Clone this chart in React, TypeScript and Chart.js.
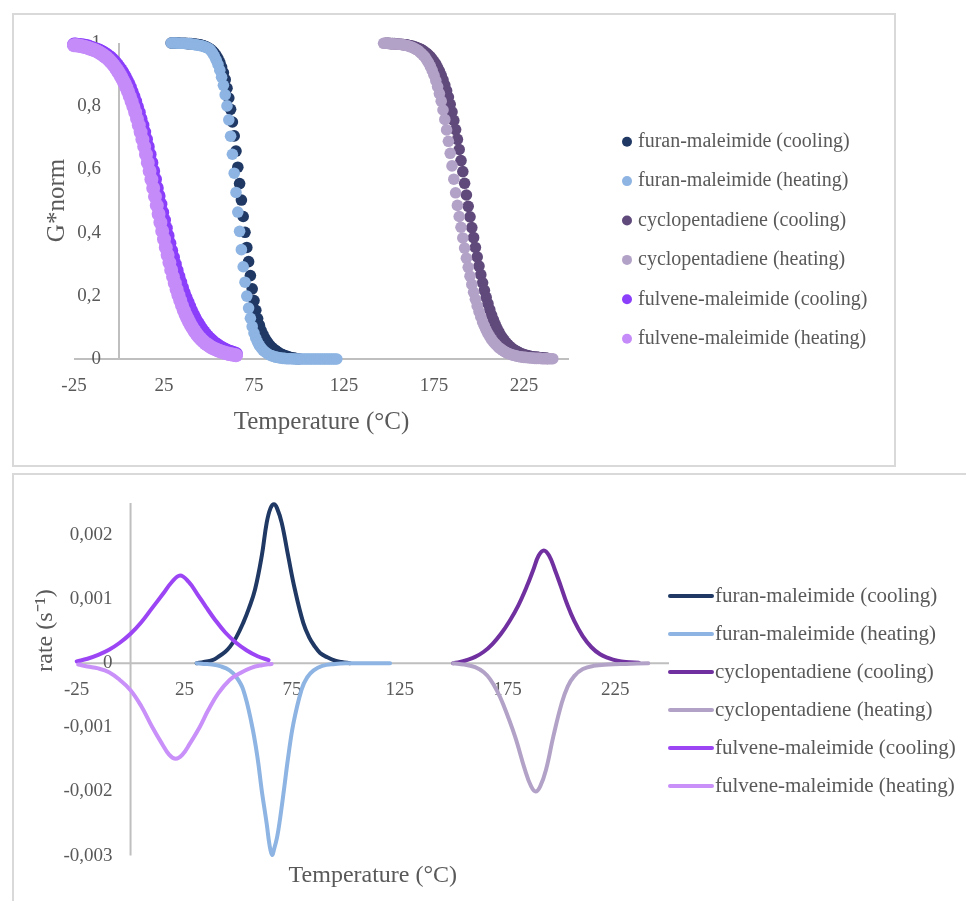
import React, { useEffect, useRef } from "react";
import { Chart, registerables } from "chart.js";

Chart.register(...registerables);

// ---------- shared ----------
const SERIES_NAMES = [
  "furan-maleimide (cooling)",
  "furan-maleimide (heating)",
  "cyclopentadiene (cooling)",
  "cyclopentadiene (heating)",
  "fulvene-maleimide (cooling)",
  "fulvene-maleimide (heating)",
];
const TOP_COLORS = ["#1F3864", "#8DB4E2", "#604A7B", "#B3A2C7", "#8B3FFA", "#C58CF9"];
const BOTTOM_COLORS = ["#1F3864", "#8DB4E2", "#7030A0", "#B3A2C7", "#9B45F5", "#C890F8"];
const TOP_MARKER_RADII = [5.8, 5.8, 5.8, 5.8, 7, 7];

const X_TICKS = [-25, 25, 75, 125, 175, 225];
const X_TICK_LABELS = ["-25", "25", "75", "125", "175", "225"];
const TOP_Y_TICKS = [0, 0.2, 0.4, 0.6, 0.8, 1];
const TOP_Y_TICK_LABELS = ["0", "0,2", "0,4", "0,6", "0,8", "1"];
const BOTTOM_Y_TICKS = [-0.003, -0.002, -0.001, 0, 0.001, 0.002];
const BOTTOM_Y_TICK_LABELS = ["-0,003", "-0,002", "-0,001", "0", "0,001", "0,002"];

// ---------- top chart: normalised G* vs temperature ----------
const furanCoolT = [29,30,31,32,33,34,35,36,37,38,39,40,41,42,43,44,45,46,47,48,49,50,51,52,53,54,55,56,57,58,59,60,61,62,63,64,65,66,67,68,69,70,71,72,73,74,75,76,77,78,79,80,81,82,83,84,85,86,87,88,89,90,91,92,93,94,95,96,97,98,99,100];
const furanCoolG = [1.000,1.000,1.000,1.000,1.000,0.999,0.999,0.999,0.999,0.998,0.998,
  0.998,0.997,0.997,0.996,0.995,0.994,0.993,0.991,0.989,0.986,
  0.983,0.979,0.974,0.968,0.960,0.951,0.939,0.924,0.906,0.884,
  0.857,0.826,0.790,0.750,0.706,0.658,0.607,0.555,0.503,0.451,
  0.401,0.353,0.308,0.264,0.222,0.185,0.154,0.128,0.107,0.090,
  0.077,0.066,0.057,0.049,0.042,0.036,0.031,0.027,0.023,0.019,
  0.016,0.013,0.011,0.009,0.007,0.005,0.004,0.003,0.002,0.001,0.001];

const furanHeatT = [29,30,31,32,33,34,35,36,37,38,39,40,41,42,43,44,45,46,47,48,49,50,51,52,53,54,55,56,57,58,59,60,61,62,63,64,65,66,67,68,69,70,71,72,73,74,75,76,77,78,79,80,81,82,83,84,85,86,87,88,89,90,91,92,93,94,95,96,97,98,99,100,101,102,103,104,105,106,107,108,109,110,111,112,113,114,115,116,117,118,119,120,121];
const furanHeatG = [1.000,1.000,1.000,1.000,0.999,0.999,0.999,0.999,0.998,0.998,0.998,
  0.997,0.996,0.995,0.994,0.993,0.992,0.991,0.989,0.987,0.985,
  0.982,0.976,0.968,0.958,0.946,0.932,0.914,0.892,0.866,0.836,
  0.801,0.757,0.705,0.648,0.588,0.527,0.465,0.404,0.346,0.292,
  0.243,0.199,0.161,0.129,0.103,0.082,0.066,0.053,0.043,0.035,
  0.028,0.023,0.019,0.015,0.012,0.010,0.008,0.006,0.005,0.004,
  0.003,0.002,0.002,0.001,0.001,0.001,0.001,
  0,0,0,0,0,0,0,0,0,0,0,0,0,0,0,0,0,0,0,0,0,0,0,0,0,0];

const cycloCoolT = [148,149,150,151,152,153,154,155,156,157,158,159,160,161,162,163,164,165,166,167,168,169,170,171,172,173,174,175,176,177,178,179,180,181,182,183,184,185,186,187,188,189,190,191,192,193,194,195,196,197,198,199,200,201,202,203,204,205,206,207,208,209,210,211,212,213,214,215,216,217,218,219,220,221,222,223,224,225,226,227,228,229,230,231,232,233,234,235,236,237,238];
const cycloCoolG = [0.999,0.999,0.999,0.998,0.998,0.998,0.997,0.997,0.996,0.996,
  0.995,0.994,0.994,0.992,0.991,0.990,0.988,0.986,0.984,0.982,
  0.979,0.975,0.971,0.967,0.962,0.956,0.949,0.941,0.933,0.922,
  0.911,0.898,0.883,0.867,0.849,0.829,0.806,0.782,0.755,0.726,
  0.695,0.663,0.628,0.593,0.556,0.519,0.483,0.450,0.416,0.384,
  0.353,0.323,0.294,0.267,0.241,0.217,0.195,0.175,0.156,0.139,
  0.124,0.110,0.097,0.086,0.076,0.067,0.059,0.052,0.046,0.040,
  0.035,0.031,0.027,0.024,0.021,0.018,0.016,0.014,0.012,0.011,
  0.009,0.008,0.007,0.006,0.006,0.005,0.004,0.004,0.003,0.003,0.002];

const cycloHeatT = [147,148,149,150,151,152,153,154,155,156,157,158,159,160,161,162,163,164,165,166,167,168,169,170,171,172,173,174,175,176,177,178,179,180,181,182,183,184,185,186,187,188,189,190,191,192,193,194,195,196,197,198,199,200,201,202,203,204,205,206,207,208,209,210,211,212,213,214,215,216,217,218,219,220,221,222,223,224,225,226,227,228,229,230,231,232,233,234,235,236,237,238,239,240,241];
const cycloHeatG = [0.999,0.999,0.999,0.998,0.998,0.998,0.997,0.997,0.996,0.996,
  0.995,0.994,0.993,0.992,0.990,0.988,0.986,0.983,0.980,0.977,
  0.972,0.967,0.961,0.955,0.946,0.937,0.926,0.913,0.898,0.881,
  0.862,0.840,0.816,0.788,0.758,0.725,0.689,0.651,0.611,0.569,
  0.526,0.486,0.451,0.417,0.383,0.351,0.319,0.290,0.262,0.236,
  0.211,0.189,0.168,0.150,0.133,0.117,0.104,0.091,0.080,0.071,
  0.062,0.054,0.048,0.042,0.036,0.032,0.028,0.024,0.021,0.018,
  0.016,0.014,0.012,0.011,0.009,0.008,0.007,0.006,0.005,0.005,
  0.004,0.004,0.003,0.003,0.002,0.002,0.002,0.002,0.001,0.001,
  0.001,0.001,0.001,0.001,0.001];

const fulveneT = [-25,-24,-23,-22,-21,-20,-19,-18,-17,-16,-15,-14,-13,-12,-11,-10,-9,-8,-7,-6,-5,-4,-3,-2,-1,0,1,2,3,4,5,6,7,8,9,10,11,12,13,14,15,16,17,18,19,20,21,22,23,24,25,26,27,28,29,30,31,32,33,34,35,36,37,38,39,40,41,42,43,44,45,46,47,48,49,50,51,52,53,54,55,56,57,58,59,60,61,62,63,64,65];
const fulveneCoolG = [0.995,0.995,0.994,0.993,0.993,0.992,0.991,0.990,0.989,0.986,
  0.984,0.982,0.980,0.978,0.976,0.973,0.970,0.966,0.963,0.958,
  0.954,0.949,0.943,0.937,0.930,0.922,0.914,0.905,0.895,0.884,
  0.873,0.860,0.846,0.831,0.815,0.798,0.780,0.760,0.740,0.718,
  0.695,0.672,0.647,0.621,0.595,0.568,0.541,0.516,0.490,0.464,
  0.439,0.414,0.390,0.366,0.343,0.321,0.300,0.280,0.261,0.243,
  0.226,0.209,0.194,0.180,0.166,0.153,0.141,0.130,0.119,0.110,
  0.101,0.093,0.085,0.078,0.071,0.065,0.060,0.055,0.050,0.046,
  0.042,0.038,0.035,0.032,0.029,0.026,0.024,0.022,0.020,0.018,0.016];
const fulveneHeatG = [0.993,0.993,0.992,0.991,0.990,0.989,0.987,0.986,0.984,0.982,
  0.980,0.978,0.976,0.973,0.970,0.966,0.963,0.958,0.954,0.949,
  0.943,0.937,0.930,0.922,0.914,0.905,0.895,0.884,0.873,0.860,
  0.846,0.831,0.815,0.798,0.780,0.760,0.740,0.718,0.695,0.672,
  0.647,0.621,0.595,0.568,0.541,0.514,0.486,0.459,0.432,0.405,
  0.379,0.353,0.329,0.305,0.282,0.260,0.240,0.220,0.202,0.185,
  0.169,0.154,0.140,0.128,0.117,0.106,0.097,0.088,0.080,0.073,
  0.066,0.060,0.055,0.050,0.046,0.042,0.038,0.035,0.032,0.030,
  0.027,0.025,0.023,0.021,0.019,0.018,0.016,0.015,0.014,0.013,0.012];

// ---------- bottom chart: rate vs temperature ----------
const furanCoolRateT = [30.7,34,38,40.7,44,46.2,49,52.3,55,57.8,60.9,63.2,65,66.6,68,70.2,73.2,76.3,80.2,83,85.6,88,91,95,98,101.9];
const furanCoolRate = [0,0.00002,0.00005,0.0001,0.00018,0.00026,0.0004,0.00063,0.00086,0.00115,0.00167,0.00219,0.00242,0.00248,0.00242,0.00219,0.00167,0.00115,0.00063,0.0004,0.00026,0.00016,0.0001,0.00004,0.00002,0];
const furanHeatRateT = [30.7,34,38,42,46,49,52.3,56.2,58.9,60.9,63.2,64.6,65.7,66.8,68,69.1,71.2,73.2,75.6,79.4,82,85,89,95,100,110,120.5];
const furanHeatRate = [0,-0.00001,-0.00002,-0.00005,-0.00011,-0.00021,-0.00041,-0.00094,-0.00146,-0.00198,-0.0025,-0.00285,-0.00299,-0.00288,-0.00272,-0.0025,-0.00198,-0.00146,-0.00094,-0.00041,-0.00022,-0.00011,-0.00004,-0.00001,0,0,0];
const cycloCoolRateT = [149.8,153,156,160,164,168,172,176,180,184,187,189.5,191.9,194.3,197,199.8,202.5,206,210,214,218,222,226,230,236];
const cycloCoolRate = [0,0.00002,0.00005,0.0001,0.00018,0.0003,0.00046,0.00066,0.0009,0.0012,0.00146,0.00168,0.00176,0.00168,0.00146,0.0012,0.00094,0.00066,0.00042,0.00025,0.00014,0.00008,0.00004,0.00002,0.00001];
const cycloHeatRateT = [149.8,155,160,164,167,170,173,178.5,183.1,186,188.1,190.2,192.9,196.3,200.2,203,206,210,215,222,230,240.4];
const cycloHeatRate = [0,-0.00002,-0.00006,-0.00014,-0.00025,-0.00042,-0.00064,-0.00114,-0.00166,-0.00192,-0.002,-0.00192,-0.00166,-0.00114,-0.00062,-0.00036,-0.0002,-0.00009,-0.00004,-0.00002,-0.00001,0];
const fulveneCoolRateT = [-25,-20,-15,-10,-5,0,5,10,15,19,23,27,31,35,39.2,44,49,54,59,64.1];
const fulveneCoolRate = [0.00003,0.00007,0.00013,0.00021,0.00032,0.00046,0.00064,0.00086,0.00108,0.00126,0.00137,0.00127,0.00108,0.00088,0.00068,0.00048,0.00032,0.0002,0.00011,0.00005];
const fulveneHeatRateT = [-24.3,-20,-15,-10,-5,0,5,10,14.5,18,21,24,27.6,32.2,36.1,40.7,46,51,56,61,65.5];
const fulveneHeatRate = [-0.00002,-0.00005,-0.00008,-0.00014,-0.00026,-0.00042,-0.00067,-0.00099,-0.00125,-0.00143,-0.00149,-0.00143,-0.00125,-0.00099,-0.00073,-0.00047,-0.00026,-0.00015,-0.00007,-0.00003,-0.00001];

// ---------- helpers ----------
const zip = (xs: number[], ys: number[]) => xs.map((x, i) => ({ x, y: ys[i] }));

const TEXT_COLOR = "#595959";
const AXIS_COLOR = "#BFBFBF";
const FONT = '"Liberation Serif", "Times New Roman", serif';

type Decor = {
  yTicks: number[];
  yTickLabels: string[];
  xTitle: string;
  xTitleY: number;
  yTitle: string;
  yTitleX: number;
  yTitleY: number;
  titleSize: number;
  legendKind: "point" | "line";
  legendX: number;
  legendY: number;
  legendDy: number;
  legendSize: number;
};

const makeDecor = (d: Decor) => ({
  id: "decor",
  beforeDatasetsDraw(chart: any) {
    const ctx = chart.ctx as CanvasRenderingContext2D;
    const xs = chart.scales.x;
    const ys = chart.scales.y;
    const area = chart.chartArea;
    const x0 = xs.getPixelForValue(0);
    const y0 = ys.getPixelForValue(0);
    ctx.save();
    ctx.strokeStyle = AXIS_COLOR;
    ctx.lineWidth = 2;
    ctx.beginPath();
    ctx.moveTo(area.left, y0);
    ctx.lineTo(area.right, y0);
    ctx.moveTo(x0, area.top);
    ctx.lineTo(x0, area.bottom);
    ctx.stroke();

    ctx.fillStyle = TEXT_COLOR;
    ctx.font = `19px ${FONT}`;
    ctx.textAlign = "right";
    ctx.textBaseline = "middle";
    d.yTicks.forEach((v, i) => ctx.fillText(d.yTickLabels[i], x0 - 18, ys.getPixelForValue(v)));
    ctx.textAlign = "center";
    X_TICKS.forEach((v, i) => ctx.fillText(X_TICK_LABELS[i], xs.getPixelForValue(v), y0 + 27));

    ctx.font = `${d.titleSize}px ${FONT}`;
    ctx.fillText(d.xTitle, (area.left + area.right) / 2, d.xTitleY);
    ctx.translate(d.yTitleX, d.yTitleY);
    ctx.rotate(-Math.PI / 2);
    ctx.fillText(d.yTitle, 0, 0);
    ctx.restore();
  },
  afterDatasetsDraw(chart: any) {
    const ctx = chart.ctx as CanvasRenderingContext2D;
    ctx.save();
    chart.data.datasets.forEach((ds: any, i: number) => {
      const y = d.legendY + i * d.legendDy;
      let tx: number;
      if (d.legendKind === "point") {
        ctx.beginPath();
        ctx.arc(d.legendX, y, 5, 0, Math.PI * 2);
        ctx.fillStyle = ds.backgroundColor;
        ctx.fill();
        tx = d.legendX + 11;
      } else {
        ctx.beginPath();
        ctx.strokeStyle = ds.borderColor;
        ctx.lineWidth = 4;
        ctx.lineCap = "round";
        ctx.moveTo(d.legendX + 2, y);
        ctx.lineTo(d.legendX + 44, y);
        ctx.stroke();
        tx = d.legendX + 47;
      }
      ctx.fillStyle = TEXT_COLOR;
      ctx.font = `${d.legendSize}px ${FONT}`;
      ctx.textAlign = "left";
      ctx.textBaseline = "middle";
      ctx.fillText(ds.label, tx, y);
    });
    ctx.restore();
  },
});

function ChartCanvas({ make, left, top, width, height }: any) {
  const ref = useRef<HTMLCanvasElement | null>(null);
  useEffect(() => {
    const chart = new Chart(ref.current as HTMLCanvasElement, make());
    return () => chart.destroy();
  }, []);
  return (
    <canvas
      ref={ref}
      width={width}
      height={height}
      style={{ position: "absolute", left, top, width, height }}
    />
  );
}

const baseOptions = (padding: any, yMin: number, yMax: number) => ({
  responsive: false,
  animation: false as const,
  devicePixelRatio: 1,
  events: [],
  layout: { padding },
  plugins: { legend: { display: false }, tooltip: { enabled: false } },
  scales: {
    x: { type: "linear" as const, min: -25, max: 250, display: false },
    y: { type: "linear" as const, min: yMin, max: yMax, display: false },
  },
});

const makeTop = () => {
  const series = [
    zip(furanCoolT, furanCoolG),
    zip(furanHeatT, furanHeatG),
    zip(cycloCoolT, cycloCoolG),
    zip(cycloHeatT, cycloHeatG),
    zip(fulveneT, fulveneCoolG),
    zip(fulveneT, fulveneHeatG),
  ];
  return {
    type: "scatter" as const,
    data: {
      datasets: series.map((data, i) => ({
        label: SERIES_NAMES[i],
        data,
        backgroundColor: TOP_COLORS[i],
        borderColor: TOP_COLORS[i],
        pointRadius: TOP_MARKER_RADII[i],
        pointBorderWidth: 0,
        showLine: false,
        clip: false,
        order: 5 - i,
      })),
    },
    options: baseOptions({ left: 74, right: 397, top: 43, bottom: 111 }, 0, 1),
    plugins: [
      makeDecor({
        yTicks: TOP_Y_TICKS,
        yTickLabels: TOP_Y_TICK_LABELS,
        xTitle: "Temperature (°C)",
        xTitleY: 422,
        yTitle: "G*norm",
        yTitleX: 57,
        yTitleY: 200.5,
        titleSize: 25,
        legendKind: "point",
        legendX: 627,
        legendY: 141.7,
        legendDy: 39.4,
        legendSize: 20,
      }),
    ],
  };
};

const makeBottom = () => {
  const series = [
    zip(furanCoolRateT, furanCoolRate),
    zip(furanHeatRateT, furanHeatRate),
    zip(cycloCoolRateT, cycloCoolRate),
    zip(cycloHeatRateT, cycloHeatRate),
    zip(fulveneCoolRateT, fulveneCoolRate),
    zip(fulveneHeatRateT, fulveneHeatRate),
  ];
  return {
    type: "scatter" as const,
    data: {
      datasets: series.map((data, i) => ({
        label: SERIES_NAMES[i],
        data,
        backgroundColor: BOTTOM_COLORS[i],
        borderColor: BOTTOM_COLORS[i],
        borderWidth: 4,
        pointRadius: 0,
        showLine: true,
        tension: 0.4,
        borderCapStyle: "round" as const,
        borderJoinStyle: "round" as const,
        clip: false,
        order: 5 - i,
      })),
    },
    options: baseOptions({ left: 76.7, right: 297, top: 33, bottom: 45.4 }, -0.003, 0.0025),
    plugins: [
      makeDecor({
        yTicks: BOTTOM_Y_TICKS,
        yTickLabels: BOTTOM_Y_TICK_LABELS,
        xTitle: "Temperature (°C)",
        xTitleY: 406,
        yTitle: "rate (s⁻¹)",
        yTitleX: 45.5,
        yTitleY: 160.5,
        titleSize: 24,
        legendKind: "line",
        legendX: 668,
        legendY: 126,
        legendDy: 38,
        legendSize: 21,
      }),
    ],
  };
};

export default function App() {
  return (
    <div
      style={{
        position: "absolute",
        left: 0,
        top: 0,
        width: 966,
        height: 901,
        overflow: "hidden",
        background: "#FFFFFF",
      }}
    >
      <div
        style={{
          position: "absolute",
          left: 12,
          top: 13,
          width: 884,
          height: 454,
          border: "2px solid #D9D9D9",
          boxSizing: "border-box",
        }}
      />
      <div
        style={{
          position: "absolute",
          left: 12,
          top: 473,
          width: 1000,
          height: 460,
          border: "2px solid #D9D9D9",
          boxSizing: "border-box",
        }}
      />
      <ChartCanvas make={makeTop} left={0} top={0} width={966} height={470} />
      <ChartCanvas make={makeBottom} left={0} top={470} width={966} height={431} />
    </div>
  );
}
